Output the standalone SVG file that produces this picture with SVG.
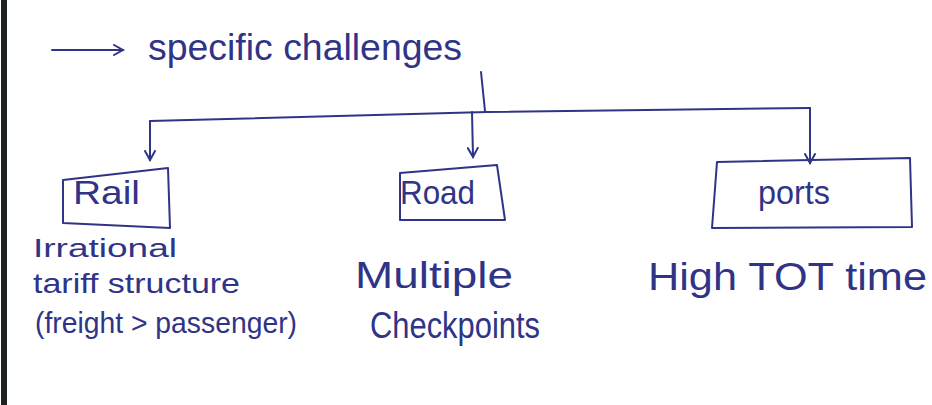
<svg xmlns="http://www.w3.org/2000/svg" width="932" height="405" viewBox="0 0 932 405">
<defs>
<style>
.ink{fill:none;stroke:#2f3487;stroke-width:2;stroke-linecap:round;stroke-linejoin:round}
.t{fill:#2f3487;font-family:"Liberation Sans",Arial,sans-serif}
</style>
<marker id="ah" viewBox="0 0 12 12" refX="10" refY="6" markerWidth="12" markerHeight="12" markerUnits="userSpaceOnUse" orient="auto">
<path d="M1,1 L10,6 L1,11" fill="none" stroke="#2f3487" stroke-width="2" stroke-linecap="round"/>
</marker>
</defs>
<rect width="932" height="405" fill="#ffffff"/>
<rect x="1" y="0" width="6" height="405" fill="#1f2222"/>

<g id="title">
<line class="ink" x1="52" y1="50" x2="123" y2="50" marker-end="url(#ah)"/>
<text class="t" x="148" y="60" font-size="36" textLength="314" lengthAdjust="spacingAndGlyphs">specific challenges</text>
</g>

<g id="connectors">
<path class="ink" d="M481,72 L485,111"/>
<path class="ink" d="M150,121 L487,112 L810,108"/>
<path class="ink" d="M150,121 L150,160" marker-end="url(#ah)"/>
<path class="ink" d="M472,112 L473,157" marker-end="url(#ah)"/>
<path class="ink" d="M810,108 L810,163" marker-end="url(#ah)"/>
</g>

<g id="rail">
<path class="ink" d="M63,180 L168,168 L170,228 L63,223 Z"/>
<text class="t" x="73" y="204" font-size="34" textLength="67" lengthAdjust="spacingAndGlyphs">Rail</text>
<text class="t" x="33" y="257" font-size="26" textLength="144" lengthAdjust="spacingAndGlyphs">Irrational</text>
<text class="t" x="33" y="293" font-size="28" textLength="207" lengthAdjust="spacingAndGlyphs">tariff structure</text>
<text class="t" x="35" y="333" font-size="30" textLength="262" lengthAdjust="spacingAndGlyphs">(freight &gt; passenger)</text>
</g>

<g id="road">
<path class="ink" d="M400,173 L497,165 L505,220 L400,220 Z"/>
<text class="t" x="400" y="204" font-size="34" textLength="75" lengthAdjust="spacingAndGlyphs">Road</text>
<text class="t" x="355" y="288" font-size="36" textLength="158" lengthAdjust="spacingAndGlyphs">Multiple</text>
<text class="t" x="370" y="338" font-size="36" textLength="170" lengthAdjust="spacingAndGlyphs">Checkpoints</text>
</g>

<g id="ports">
<path class="ink" d="M717,162 L910,158 L912,227 L712,228 Z"/>
<text class="t" x="758" y="204" font-size="34" textLength="72" lengthAdjust="spacingAndGlyphs">ports</text>
<text class="t" x="648" y="290" font-size="38" textLength="279" lengthAdjust="spacingAndGlyphs">High TOT time</text>
</g>
</svg>
